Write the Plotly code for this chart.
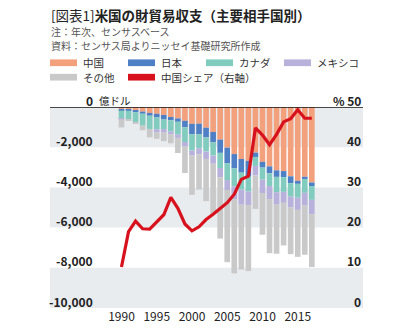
import plotly.graph_objects as go

# ---- data (億ドル) ----
years = list(range(1990, 2018))
china = [-104, -127, -183, -228, -295, -338, -395, -497, -569, -687, -838, -831, -1031, -1241,
         -1623, -2023, -2341, -2585, -2680, -2269, -2730, -2953, -3151, -3187, -3448, -3673, -3470, -3756]
japan = [-77, -60, -80, -108, -140, -181, -228, -164, -166, -321, -519, -528, -482, -517,
         -658, -785, -718, -682, -783, -216, -285, -345, -325, -302, -340, -151, -110, -176]
canada = [-411, -434, -496, -594, -657, -591, -476, -561, -640, -734, -816, -690, -701, -660,
          -756, -827, -886, -843, -741, -447, -601, -632, -763, -734, -670, -686, -689, -688]
mexico = [-19, 0, 0, 0, 0, -158, -175, -145, -159, -228, -246, -300, -371, -406,
          -451, -497, -645, -748, -676, -478, -664, -650, -614, -541, -538, -607, -632, -711]
other = [-406, -46, -87, -227, -416, -317, -426, -440, -757, -1316, -1950, -1764, -2097, -2497,
         -3057, -3588, -3687, -3228, -3285, -1658, -2073, -2694, -2448, -2124, -2324, -2337, -2448, -2628]
china_share = [10.2, 19.0, 21.6, 19.7, 19.6, 21.3, 23.2, 27.5, 24.8, 20.9, 19.2, 20.2, 22.0, 23.3,
               24.8, 26.2, 28.3, 32.0, 32.8, 44.8, 43.0, 40.6, 43.2, 46.3, 47.1, 49.3, 47.2, 47.2]

series_names = ["中国", "日本", "カナダ", "メキシコ", "その他"]
share_name = "中国シェア（右軸）"
left_ticks = [0, -2000, -4000, -6000, -8000, -10000]
right_ticks = [50, 40, 30, 20, 10, 0]
x_ticks = [1990, 1995, 2000, 2005, 2010, 2015]

title = "[図表1]<b>米国の財貿易収支（主要相手国別）</b>"
note1 = "注：年次、センサスベース"
note2 = "資料：センサス局よりニッセイ基礎研究所作成"

colors = ["#f3a07d", "#4f7fc4", "#82ccbf", "#b7b1dc", "#c9c9c9"]
red = "#d7121d"
FONT = "Noto Sans CJK JP"

W, H = 414, 336
L, R, T, B = 50, 363, 107, 316

def px(x):
    return (x - L) / (R - L)

def py(y):
    return (B - y) / (B - T)

fig = go.Figure()
for name, vals, col in zip(series_names, [china, japan, canada, mexico, other], colors):
    fig.add_trace(go.Bar(x=years, y=vals, name=name, marker=dict(color=col, line=dict(width=0)),
                         width=0.8, showlegend=False))
fig.add_trace(go.Scatter(x=years, y=china_share, name=share_name, yaxis="y2", mode="lines",
                         line=dict(color=red, width=3.2), showlegend=False))

shapes = []
# alternating bands
for i in range(0, len(left_ticks) - 1, 2):
    shapes.append(dict(type="rect", xref="paper", yref="y", x0=0, x1=1,
                       y0=left_ticks[i], y1=left_ticks[i + 1], fillcolor="#e9ecef",
                       line=dict(width=0), layer="below"))
# top line
shapes.append(dict(type="line", xref="paper", yref="y", x0=0, x1=1, y0=0, y1=0,
                   line=dict(color="#111111", width=1.5), layer="above"))

annotations = []
# left axis labels
for v in left_ticks:
    if v == 0:
        annotations.append(dict(xref="paper", yref="y", x=px(94.5), y=v, yshift=7, text="0",
                                showarrow=False, xanchor="right", yanchor="middle",
                                font=dict(family=FONT, size=12, color="#222", weight="bold")))
        annotations.append(dict(xref="paper", yref="y", x=px(97), y=v, yshift=7, text="億ドル",
                                showarrow=False, xanchor="left", yanchor="middle",
                                font=dict(family=FONT, size=10.5, color="#222")))
    else:
        annotations.append(dict(xref="paper", yref="y", x=px(94.5), y=v, yshift=7,
                                text=f"{v:,}", showarrow=False, xanchor="right", yanchor="middle",
                                font=dict(family=FONT, size=12, color="#222", weight="bold")))
# right axis labels
for v in right_ticks:
    txt = f"% {v}" if v == 50 else f"{v}"
    annotations.append(dict(xref="paper", yref="y2", x=1, y=v, yshift=7, text=txt,
                            showarrow=False, xanchor="right", yanchor="middle",
                            font=dict(family=FONT, size=12, color="#222", weight="bold")))

# titles
annotations.append(dict(xref="paper", yref="paper", x=px(49), y=py(11), text=title, showarrow=False,
                        xanchor="left", yanchor="middle", font=dict(family=FONT, size=13.5, color="#222")))
annotations.append(dict(xref="paper", yref="paper", x=px(49), y=py(28), text=note1, showarrow=False,
                        xanchor="left", yanchor="middle", font=dict(family=FONT, size=10, color="#555")))
annotations.append(dict(xref="paper", yref="paper", x=px(49), y=py(43.5), text=note2, showarrow=False,
                        xanchor="left", yanchor="middle", font=dict(family=FONT, size=10, color="#555")))

# manual legend
leg_items = list(zip(series_names, colors)) + [(share_name, red)]
cols_x = [50, 128, 206, 284]
rows_y = [61, 76]
for k, (name, col) in enumerate(leg_items):
    r, c = divmod(k, 4)
    x0 = cols_x[c]
    yc = rows_y[r]
    shapes.append(dict(type="rect", xref="paper", yref="paper", x0=px(x0), x1=px(x0 + 27),
                       y0=py(yc + 3.5), y1=py(yc - 3.5), fillcolor=col, line=dict(width=0)))
    annotations.append(dict(xref="paper", yref="paper", x=px(x0 + 31), y=py(yc), text=name,
                            showarrow=False, xanchor="left", yanchor="middle",
                            font=dict(family=FONT, size=10.5, color="#333")))

fig.update_layout(
    width=W, height=H,
    margin=dict(l=L, r=W - R, t=T, b=H - B, pad=0),
    paper_bgcolor="white", plot_bgcolor="white",
    barmode="relative", bargap=0.2,
    showlegend=False,
    xaxis=dict(range=[1979.86, 2024.26], tickvals=x_ticks, ticks="", showgrid=False,
               zeroline=False, showline=False,
               tickfont=dict(family=FONT, size=12, color="#222")),
    yaxis=dict(range=[-10000, 0], showticklabels=False, showgrid=False, zeroline=False,
               showline=False, ticks=""),
    yaxis2=dict(range=[0, 50], overlaying="y", side="right", showticklabels=False,
                showgrid=False, zeroline=False, showline=False, ticks=""),
    shapes=shapes, annotations=annotations,
    font=dict(family=FONT),
)

fig.write_html("out.html")
